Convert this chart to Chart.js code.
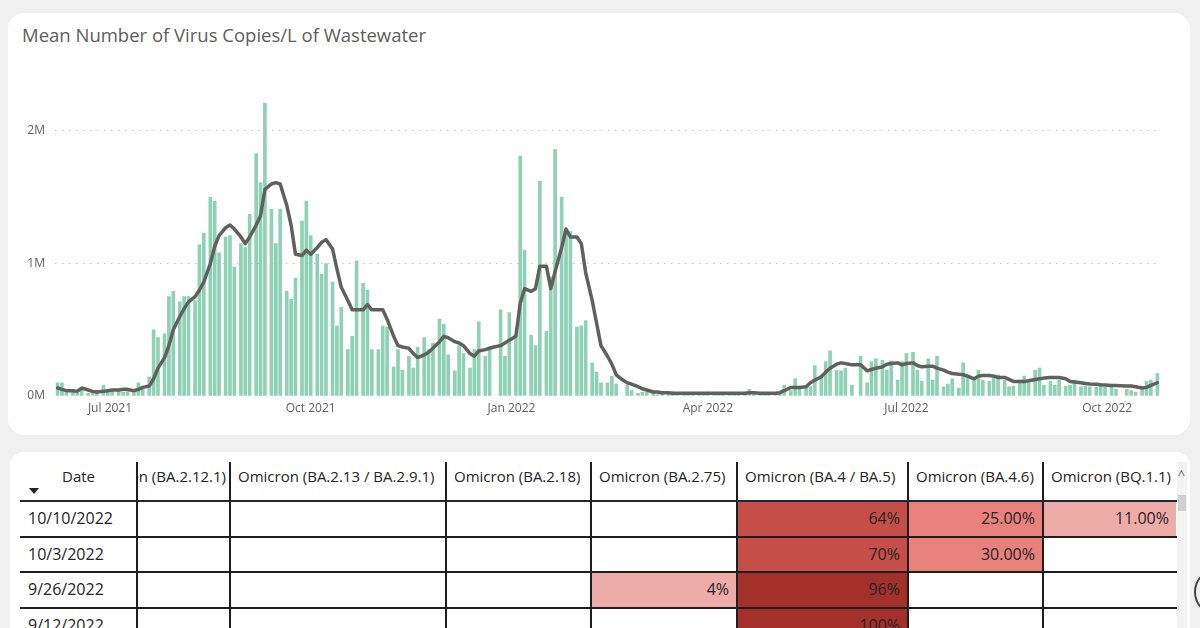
<!DOCTYPE html>
<html><head><meta charset="utf-8">
<script src="https://cdn.jsdelivr.net/npm/chart.js@4.4.1/dist/chart.umd.min.js"></script>
<style>
html,body{margin:0;padding:0;width:1200px;height:628px;overflow:hidden;background:#f0f0f0;font-family:'Segoe UI','Open Sans',sans-serif;}
#card1{position:absolute;left:8px;top:13px;width:1182px;height:422px;background:#fff;border-radius:16px;}
#title{position:absolute;left:22px;top:22px;font-size:18.5px;color:#605e5c;white-space:nowrap;}
#wrap{position:absolute;left:10px;top:74px;width:1170px;height:346px;}
#card2{position:absolute;left:10px;top:452px;width:1180px;height:220px;background:#fff;border-radius:14px;}
.t{position:absolute;white-space:nowrap;color:#252423;}
.ln{position:absolute;background:#1e1e1e;}
.cell{position:absolute;}
</style></head>
<body>
<div id="card1"></div>
<div id="title">Mean Number of Virus Copies/L of Wastewater</div>
<div id="wrap"><canvas id="c" width="1170" height="346"></canvas></div>
<div id="card2"></div>
<div id="tbl"></div>
<script>
// ---- chart data (values in millions of copies/L) ----
const sampleDates = [
'2021-06-07','2021-06-09','2021-06-11','2021-06-14','2021-06-16','2021-06-18','2021-06-21','2021-06-23','2021-06-25',
'2021-06-28','2021-06-30','2021-07-02','2021-07-05','2021-07-07','2021-07-09','2021-07-12','2021-07-14','2021-07-16',
'2021-07-19','2021-07-21','2021-07-23','2021-07-26','2021-07-28','2021-07-30','2021-08-02','2021-08-04','2021-08-06',
'2021-08-09','2021-08-11','2021-08-13','2021-08-16','2021-08-18','2021-08-20','2021-08-23','2021-08-25','2021-08-27',
'2021-08-30','2021-09-01','2021-09-03','2021-09-06','2021-09-08','2021-09-10','2021-09-13','2021-09-15','2021-09-17',
'2021-09-20','2021-09-22','2021-09-24','2021-09-27','2021-09-29','2021-10-01','2021-10-04','2021-10-06','2021-10-08',
'2021-10-11','2021-10-13','2021-10-15','2021-10-18','2021-10-20','2021-10-22','2021-10-25','2021-10-27','2021-10-29',
'2021-11-01','2021-11-03','2021-11-05','2021-11-08','2021-11-10','2021-11-12','2021-11-15','2021-11-17','2021-11-19',
'2021-11-22','2021-11-24','2021-11-26','2021-11-29','2021-12-01','2021-12-03','2021-12-06','2021-12-08','2021-12-10',
'2021-12-13','2021-12-15','2021-12-17','2021-12-20','2021-12-22','2021-12-24','2021-12-27','2021-12-29','2021-12-31',
'2022-01-03','2022-01-05','2022-01-07','2022-01-10','2022-01-12','2022-01-14','2022-01-17','2022-01-19','2022-01-21',
'2022-01-24','2022-01-26','2022-01-28','2022-01-31','2022-02-02','2022-02-04','2022-02-07','2022-02-09','2022-02-11',
'2022-02-14','2022-02-16','2022-02-18','2022-02-21','2022-02-23','2022-02-25','2022-02-28','2022-03-02','2022-03-04',
'2022-03-07','2022-03-09','2022-03-11','2022-03-14','2022-03-16','2022-03-18','2022-03-21','2022-03-23','2022-03-25',
'2022-03-28','2022-03-30','2022-04-01','2022-04-04','2022-04-06','2022-04-08','2022-04-11','2022-04-13','2022-04-15',
'2022-04-18','2022-04-20','2022-04-22','2022-04-25','2022-04-27','2022-04-29','2022-05-02','2022-05-04','2022-05-06',
'2022-05-09','2022-05-11','2022-05-13','2022-05-16','2022-05-18','2022-05-20','2022-05-23','2022-05-25','2022-05-27',
'2022-05-30','2022-06-01','2022-06-03','2022-06-06','2022-06-08','2022-06-10','2022-06-13','2022-06-15','2022-06-17',
'2022-06-20','2022-06-22','2022-06-24','2022-06-27','2022-06-29','2022-07-01','2022-07-04','2022-07-06','2022-07-08',
'2022-07-11','2022-07-13','2022-07-15','2022-07-18','2022-07-20','2022-07-22','2022-07-25','2022-07-27','2022-07-29',
'2022-08-01','2022-08-03','2022-08-05','2022-08-08','2022-08-10','2022-08-12','2022-08-15','2022-08-17','2022-08-19',
'2022-08-22','2022-08-24','2022-08-26','2022-08-29','2022-08-31','2022-09-02','2022-09-05','2022-09-07','2022-09-09',
'2022-09-12','2022-09-14','2022-09-16','2022-09-19','2022-09-21','2022-09-23','2022-09-26','2022-09-28','2022-09-30',
'2022-10-03','2022-10-05','2022-10-07','2022-10-10','2022-10-12','2022-10-14','2022-10-17','2022-10-19','2022-10-21',
'2022-10-24'];

const copiesPerL = [
0.10,0.10,0.03, 0.03,0.02,0.05, 0.02,0.03,0.02, 0.08,0.03,0.04, 0.04,0.03,0.04, 0.03,0.10,0.05,
0.145,0.50,0.44, 0.47,0.75,0.79, 0.71,0.75,0.75, 0.72,1.14,1.23, 1.50,1.47,1.08, 1.20,1.21,0.97,
1.15,1.12,1.37, 1.83,1.61,2.21, 1.41,1.15,1.41, 0.79,0.73,0.89, 1.32,1.47,1.21, 1.07,0.92,1.00,
0.86,0.53,0.67, 0.35,0.45,1.02, 0.85,0.80,0.35, 0.35,0.53,0.52, 0.22,0.35,0.195, 0.30,0.21,0.37,
0.44,0.35,0.40, 0.58,0.54,0.31, 0.19,0.38,0.32, 0.21,0.35,0.56, 0.30,0.37,null, 0.65,0.30,0.63,
0.46,1.81,1.10, 0.46,0.38,1.62, 0.49,0.90,1.86, 1.50,1.24,1.24, 0.52,0.53,0.57, 0.25,0.18,0.10,
0.10,0.15,0.09, null,0.08,0.04, 0.02,0.03,0.03, 0.02,0.01,0.02, 0.02,0.03,0.01, 0.02,0.01,0.02,
0.02,0.01,0.03, 0.01,0.02,0.02, 0.02,0.01,0.02, 0.02,0.05,0.02, 0.01,0.02,0.02, 0.02,0.03,0.08,
0.04,0.13,0.07, 0.07,0.07,0.23, 0.16,0.26,0.34, 0.195,0.19,0.21, 0.08,null,0.30, 0.10,0.26,0.28,
0.27,0.195,0.265, 0.12,0.26,0.32, 0.33,0.195,0.11, 0.28,0.12,0.30, 0.07,0.09,0.13, 0.06,0.25,0.16,
0.12,0.195,0.12, 0.11,0.16,0.16, 0.12,0.07,0.075, 0.12,0.15,0.11, 0.195,0.21,0.08, 0.11,0.08,0.12,
0.075,0.08,0.12, 0.07,0.075,0.07, 0.065,0.075,0.07, 0.07,0.05,null, 0.05,0.04,0.03, 0.07,0.11,0.12,
0.17];

const rollingAvg = [
0.06,0.05,0.04, 0.04,0.035,0.06, 0.045,0.035,0.03, 0.035,0.04,0.045, 0.045,0.05,0.05, 0.04,0.05,0.065,
0.075,0.13,0.21, 0.29,0.38,0.50, 0.60,0.66,0.71, 0.75,0.80,0.86, 1.00,1.13,1.21, 1.27,1.29,1.26,
1.20,1.15,1.20, 1.29,1.36,1.56, 1.60,1.61,1.60, 1.44,1.29,1.07, 1.06,1.10,1.07, 1.12,1.16,1.18,
1.11,0.96,0.82, 0.72,0.65,0.65, 0.65,0.69,0.65, 0.65,0.65,0.58, 0.45,0.38,0.37, 0.36,0.32,0.29,
0.31,0.33,0.36, 0.41,0.45,0.44, 0.41,0.40,0.38, 0.32,0.30,0.34, 0.35,0.36,0.37, 0.38,0.40,0.42,
0.45,0.70,0.81, 0.79,0.81,0.98, 0.98,0.81,0.94, 1.12,1.26,1.20, 1.20,1.15,0.93, 0.72,0.55,0.38,
0.30,0.24,0.16, 0.12,0.10,0.09, 0.07,0.055,0.045, 0.03,0.03,0.025, 0.025,0.02,0.02, 0.02,0.02,0.02,
0.02,0.02,0.02, 0.02,0.02,0.02, 0.02,0.02,0.02, 0.02,0.025,0.025, 0.02,0.02,0.02, 0.02,0.025,0.04,
0.065,0.065,0.065, 0.07,0.10,0.12, 0.145,0.18,0.21, 0.24,0.25,0.245, 0.235,0.235,0.235, 0.19,0.20,0.21,
0.22,0.24,0.245, 0.25,0.235,0.245, 0.25,0.23,0.22, 0.225,0.225,0.21, 0.195,0.18,0.17, 0.165,0.16,0.15,
0.13,0.15,0.155, 0.155,0.15,0.14, 0.14,0.125,0.11, 0.11,0.11,0.115, 0.125,0.13,0.135, 0.14,0.14,0.14,
0.13,0.11,0.105, 0.10,0.095,0.09, 0.088,0.085,0.083, 0.08,0.08,0.078, 0.075,0.075,0.07, 0.06,0.065,0.08,
0.10];

const xTickDates = ['2021-07-01','2021-10-01','2022-01-01','2022-04-01','2022-07-01','2022-10-01'];
const xTickLabels = ['Jul 2021','Oct 2021','Jan 2022','Apr 2022','Jul 2022','Oct 2022'];
const yTickValues = [0, 1, 2];
const yTickLabels = ['0M', '1M', '2M'];

// ---- table data ----
const tableDates = ['10/10/2022','10/3/2022','9/26/2022','9/12/2022'];
const variantNames = ['Omicron (BA.2.12.1)','Omicron (BA.2.13 / BA.2.9.1)','Omicron (BA.2.18)','Omicron (BA.2.75)','Omicron (BA.4 / BA.5)','Omicron (BA.4.6)','Omicron (BQ.1.1)'];
const shareBA2121 = [null,null,null,null];
const shareBA213 = [null,null,null,null];
const shareBA218 = [null,null,null,null];
const shareBA275 = [null,null,0.04,null];
const shareBA45 = [0.64,0.70,0.96,1.00];
const shareBA46 = [0.25,0.30,null,null];
const shareBQ11 = [0.11,null,null,null];
const shareDecimals = [0,0,0,0,0,2,2];

// ---- chart ----
const DAY = 86400000;
const origin = Date.UTC(2021,6,1);
const dayOf = s => { const p = s.split('-').map(Number); return (Date.UTC(p[0],p[1]-1,p[2]) - origin)/DAY; };
const fam = "'Segoe UI','Open Sans',sans-serif";
const tickDays = xTickDates.map(dayOf);

new Chart(document.getElementById('c'), {
  type: 'bar',
  data: {
    datasets: [
      { type:'line', data: sampleDates.map((d,i)=>({x:dayOf(d), y:rollingAvg[i]})),
        borderColor:'#606060', borderWidth:3.5, pointRadius:0, tension:0, spanGaps:true,
        borderJoinStyle:'round', borderCapStyle:'round', order:0 },
      { type:'bar', data: sampleDates.map((d,i)=>({x:dayOf(d), y:copiesPerL[i]})),
        backgroundColor:'#8fd1b6', barThickness:3, order:1 }
    ]
  },
  options: {
    responsive:false, animation:false,
    layout:{padding:{top:4, right:20, left:0, bottom:0}},
    plugins:{legend:{display:false}, tooltip:{enabled:false}},
    events:[],
    scales:{
      x:{ type:'linear', min:-25.2, max:481.2, offset:false,
        grid:{display:false, drawTicks:false}, border:{display:false},
        afterBuildTicks: s => { s.ticks = tickDays.map(v=>({value:v})); },
        ticks:{autoSkip:false, maxRotation:0, padding:5, color:'#605e5c', font:{size:12, family:fam},
          callback:(v,i)=>xTickLabels[i]},
        afterFit: s => { s.height = 24; } },
      y:{ min:0, max:2.3,
        afterBuildTicks: s => { s.ticks = yTickValues.map(v=>({value:v})); },
        ticks:{padding:10, color:'#605e5c', font:{size:12, family:fam}, callback:(v,i)=>yTickLabels[i]},
        grid:{drawTicks:false, lineWidth:1, color: c => (c.tick && c.tick.value===0) ? 'rgba(0,0,0,0)' : '#c4c4c4'},
        border:{display:false, dash:[1.5,5.5]},
        afterFit: s => { s.width = 45; } }
    }
  }
});

// ---- table ----
const T = document.getElementById('tbl');
const edges = [20,137,230,446,591,737,908,1043,1177];
const hTop = 462, hBot = 501, rowH = 35.5;
const cols = [shareBA2121, shareBA213, shareBA218, shareBA275, shareBA45, shareBA46, shareBQ11];
function add(cls, st, html){ const d=document.createElement('div'); d.className=cls; Object.assign(d.style, st); if(html!==undefined) d.innerHTML=html; T.appendChild(d); return d; }
function shade(v){ if (v < 0.2) return '#eeaca8'; if (v < 0.5) return '#e8817b'; if (v < 0.9) return '#c54e48'; return '#a4302b'; }

// header
add('t', {left:'20px', width:'117px', top:'466px', textAlign:'center', fontSize:'15px'}, 'Date');
add('cell', {left:'29px', top:'488px', width:'0', height:'0', borderLeft:'5px solid transparent', borderRight:'5px solid transparent', borderTop:'6px solid #252423'});
variantNames.forEach((n,j)=>{
  const L = edges[j+1], R = edges[j+2];
  const box = add('cell', {left:(L+1)+'px', top:hTop+'px', width:(R-L-1)+'px', height:(hBot-hTop)+'px', overflow:'hidden'});
  const s = document.createElement('div'); s.className='t'; s.textContent=n;
  Object.assign(s.style, {top:'4px', fontSize:'15px'});
  if (j===0) s.style.right='4px'; else s.style.left='7px';
  box.appendChild(s);
});
// rows
tableDates.forEach((d,i)=>{
  const top = hBot + i*rowH;
  add('t', {left:'28px', top:(top+6)+'px', fontSize:'16px'}, d);
  cols.forEach((col,j)=>{
    const v = col[i]; if (v===null) return;
    const L = edges[j+1], R = edges[j+2];
    add('cell', {left:(L+1)+'px', top:(top+1)+'px', width:(R-L-2)+'px', height:(rowH-1)+'px', background:shade(v)});
    add('t', {left:L+'px', width:(R-L-8)+'px', textAlign:'right', top:(top+6)+'px', fontSize:'16px'}, (v*100).toFixed(shareDecimals[j])+'%');
  });
});
// grid lines
for (let j=1;j<edges.length-1;j++) add('ln', {left:(edges[j]-1)+'px', top:hTop+'px', width:'2px', height:(628-hTop)+'px'});
for (let i=0;i<4;i++) add('ln', {left:'20px', top:(hBot-1+i*rowH)+'px', width:(edges[8]-20)+'px', height:'2px', background:i===0?'#1f2638':'#1e1e1e'});
// scrollbar
add('cell', {left:'1177px', top:'462px', width:'10px', height:'170px', background:'#f3f3f3'});
add('cell', {left:'1178px', top:'495px', width:'8px', height:'16px', background:'#d0d0d0'});
add('t', {left:'1178px', top:'466px', fontSize:'12px', color:'#555'}, '^');
add('cell', {left:'1194px', top:'570px', width:'36px', height:'40px', border:'2px solid #444', borderRadius:'50%'});
</script>
</body></html>
